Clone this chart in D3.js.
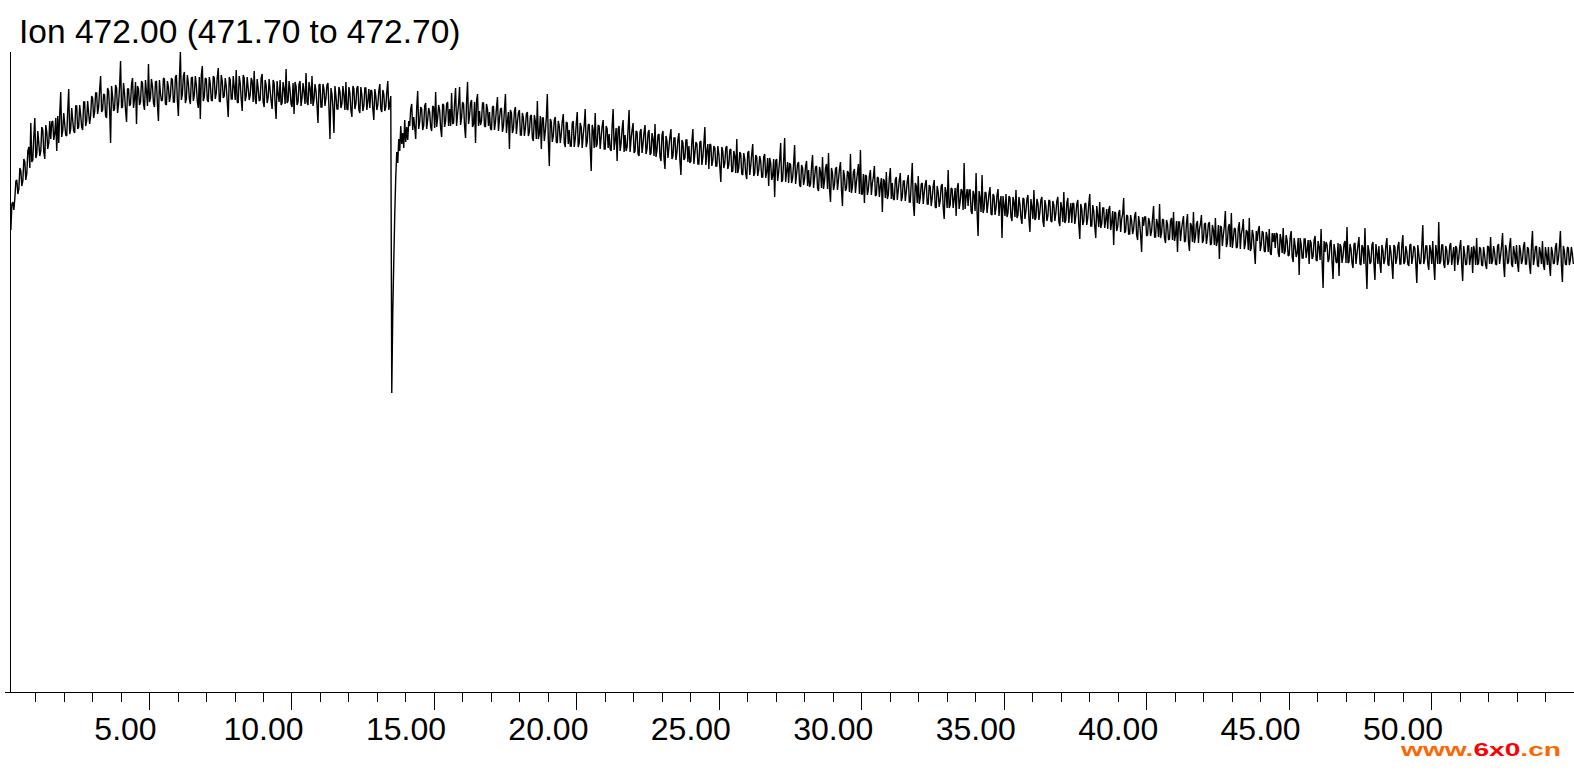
<!DOCTYPE html>
<html>
<head>
<meta charset="utf-8">
<script src="https://cdn.jsdelivr.net/npm/d3@7"></script>
<style>
  html, body { margin: 0; padding: 0; background: #ffffff; }
  svg { display: block; }
</style>
</head>
<body>
<svg id="chart" width="1574" height="770"></svg>
<script>
// ---- Data (ion chromatogram, m/z 472.00) ----
const titleText = "Ion 472.00 (471.70 to 472.70)";
const SCAN_START = 0.15;   // min
const SCAN_STEP = 0.035;   // min between scans

// abundance per scan (arbitrary units), consecutive scans
const scans0 = [462,488,490,482,494,511,512,498,503,524,521,506,511,533,530,512,519,541,545,524,569,530,532,556,574,534,538,561,549,536,541,565,562,540,533,567,560,543,549,571,
553,570,571,552,558,574,541,576,549,578,600,555,561,579,568,557,556,581,603,558,563,584,572,561,559,586,586,563,565,587,577,565,562,590,590,566,571,591,579,568,
576,596,594,574,580,599,599,578,585,602,616,580,582,598,597,576,574,604,601,583,549,606,596,581,583,607,604,579,588,605,631,584,585,609,598,582,570,603,603,586,
588,608,614,584,593,610,568,606,603,587,590,611,609,588,582,612,600,586,628,590,594,613,606,589,585,610,611,587,571,612,599,591,592,614,613,588,587,611,605,590,
596,614,612,590,590,615,617,591,576,613,640,592,598,616,620,589,593,617,609,593,588,614,615,591,597,616,607,590,584,615,573,617,626,591,595,614,613,592,590,615];
const scans1 = [608,592,591,616,614,593,599,615,624,591,590,617,611,594,596,614,606,590,575,615,612,593,593,616,605,592,622,590,589,616,609,593,581,617,614,591,596,615,604,592,
597,614,611,590,621,593,588,613,604,591,592,614,618,590,585,612,607,589,594,613,602,591,583,612,609,588,573,611,598,590,612,587,589,610,603,588,623,589,591,611,
602,588,585,609,578,610,606,587,590,608,611,586,594,609,600,588,619,590,587,610,604,588,616,586,592,608,601,587,569,607,608,585,585,608,603,586,594,607,609,584,
553,604,598,584,559,606,596,583,583,605,601,584,588,606,597,582,610,583,582,605,599,582,575,606,603,583,588,604,606,582,579,605,597,581,586,604,604,582,591,603,
584,602,601,583,572,603,596,582,587,601,608,583,580,602,598,581,585,600,611,582,588,596,299,380,430,478,515,540,529,553,541,566,548,559,544,572,550,565,552,571];
const scans2 = [566,583,588,562,575,565,553,584,601,563,570,585,583,562,566,586,589,563,572,584,580,565,561,586,585,564,600,565,574,587,582,564,555,588,587,565,571,588,590,566,
583,566,599,568,569,589,604,566,578,588,605,567,574,590,588,566,554,590,610,568,576,589,592,565,568,590,549,591,598,566,581,567,571,589,589,566,565,588,583,566,
580,563,562,585,586,562,570,584,595,561,573,583,584,560,566,582,598,559,571,580,543,582,579,559,563,581,585,558,570,579,582,557,557,579,574,556,564,578,580,556,
560,576,577,554,551,577,571,553,591,553,558,576,543,574,574,551,561,574,598,552,526,573,570,550,556,572,575,550,549,571,566,549,558,571,578,549,545,570,569,548,
562,546,546,569,571,545,553,568,580,545,549,569,565,544,557,567,583,545,550,567,568,544,521,567,562,544,579,545,548,567,566,543,555,566,572,543,543,566,563,544];
const scans3 = [558,543,541,566,583,542,552,564,531,563,566,541,549,563,572,540,557,541,545,563,582,540,553,562,569,539,541,561,560,538,536,560,563,539,548,560,567,538,543,559,
562,537,539,559,553,536,568,535,542,557,558,535,531,557,561,534,523,556,551,534,545,556,563,533,536,554,554,532,540,553,559,531,517,552,549,532,534,552,552,530,
546,529,531,551,563,528,539,550,548,528,528,550,551,527,535,549,565,527,541,548,523,548,547,526,532,546,544,526,526,546,538,525,510,545,541,524,529,544,546,523,
527,542,543,520,521,541,536,519,553,519,524,540,538,518,517,539,533,518,513,539,541,517,526,538,548,516,519,537,535,516,522,536,531,515,515,535,538,514,520,534,
506,534,529,512,516,533,495,531,533,511,520,532,549,510,512,531,554,510,521,530,509,529,527,509,514,528,547,508,518,528,530,507,505,527,524,507,513,526,531,506];
const scans4 = [522,505,508,526,537,504,514,525,526,504,501,525,520,504,535,503,511,524,528,503,539,503,490,524,519,502,507,523,525,502,512,523,530,502,486,522,516,501,504,521,
519,500,538,499,505,520,523,499,510,519,528,498,542,498,498,518,489,517,516,497,503,516,522,497,509,515,526,496,497,515,514,495,506,514,480,513,511,494,520,493,
497,514,524,493,509,493,492,512,515,492,502,512,519,491,495,511,511,491,500,511,517,490,490,510,529,489,476,509,506,489,516,488,494,508,509,488,499,508,512,488,
488,507,505,486,494,506,512,485,484,506,500,485,491,506,508,485,473,505,499,484,522,484,487,504,503,484,493,504,476,503,509,483,490,503,501,482,529,483,495,503,
486,502,502,481,478,501,497,481,519,480,456,501,494,480,517,479,483,500,499,479,489,499,505,478,477,498,496,477,484,497,503,476,490,496,454,496,487,476,498,475];
const scans5 = [479,496,494,475,471,495,490,475,502,474,477,495,488,474,468,494,493,473,481,493,497,473,460,493,485,473,502,472,474,493,489,472,480,492,495,471,465,492,486,471,
476,492,491,471,470,491,487,471,479,491,495,470,466,490,484,470,500,469,472,489,494,469,481,489,469,489,488,468,476,488,492,468,453,488,483,467,471,488,489,467,
474,488,498,466,466,487,481,466,454,486,477,465,490,464,468,484,484,464,472,483,463,482,486,462,470,481,447,480,479,461,465,479,482,460,473,478,494,459,461,477,
476,458,458,477,471,458,463,476,480,457,452,476,469,457,440,475,466,475,475,456,457,474,470,456,461,474,486,455,455,473,468,455,488,454,459,473,472,454,449,472,
468,452,453,471,474,452,480,451,457,471,440,470,470,451,462,470,476,450,451,469,478,450,441,469,466,450,480,449,455,468,471,449,463,468,477,449,452,468,469,448];
const scans6 = [456,468,470,447,448,467,462,447,474,446,451,467,433,466,465,446,457,466,481,445,449,465,468,445,479,444,453,464,463,444,445,464,470,443,458,463,473,443,448,462,
460,442,474,441,444,462,457,442,428,461,451,462,466,441,447,461,459,441,440,460,455,440,463,439,437,459,450,459,444,459,458,439,435,458,452,439,464,438,441,457,
451,436,437,455,461,435,430,454,446,435,439,454,417,454,448,434,434,453,453,434,442,452,428,452,449,433,436,452,456,432,431,451,445,432,463,431,404,451,440,450,
447,430,433,449,452,430,413,448,441,430,429,449,416,448,445,429,436,448,451,429,465,429,430,448,443,429,424,448,449,428,438,447,455,428,427,447,444,428,464,428,
403,447,441,428,430,447,450,428,412,448,439,428,446,428,419,447,442,428,433,447,454,428,426,447,440,428,413,447,445,428,434,446,450,428,428,447,457,428,430,446];
const scans7 = [440,428,426,447,448,428,435,446,444,428,409,447,438,428,429,446,467,428,433,446,446,428,422,447,441,428,451,428,412,447,439,428,470,428,431,447,447,428,424,446,
442,427,430,446,449,427,436,445,421,446,444,427,433,445,452,427,411,446,438,427,428,446,446,427,435,445,419,446,441,427,454,427,429,445,443,427,426,445,437,427,
423,446,445,428,455,428,431,446,440,428,427,446,448,428,436,446,459,428,415,447,442,428,430,446,454,428,425,446,439,428,447,428,420,447,441,428,432,446,450,428,
428,445,443,427,418,446,461,427,434,445,446,427,425,445,439,428,451,427,422,445,437,427,445,427,416,445,440,428,429,445,449,427,433,445,461,427,410,446,441,428,427,445,444,427,432,445,438,428];

const majorTicks = [5, 10, 15, 20, 25, 30, 35, 40, 45, 50];
const minorTicks = d3.range(1, 55).filter(v => v % 5 !== 0);
const xDomain = [0, 55];
const yDomain = [0, 640];

// ---- Build ----
const abundance = [].concat(scans0, scans1, scans2, scans3, scans4, scans5, scans6, scans7);
const points = abundance.map((v, i) => ({ t: SCAN_START + i * SCAN_STEP, v }));

const svg = d3.select("#chart");
const x = d3.scaleLinear().domain(xDomain).range([6.6, 1573.5]);
const y = d3.scaleLinear().domain(yDomain).range([692, 52]);
const FONT = "'Liberation Sans', Arial, Helvetica, sans-serif";

// title
svg.append("text")
  .attr("x", 19).attr("y", 43)
  .attr("font-family", FONT).attr("font-size", 33.5)
  .attr("fill", "#000")
  .text(titleText);

// trace
svg.append("path")
  .datum(points)
  .attr("fill", "none")
  .attr("stroke", "#000")
  .attr("stroke-width", 1.4)
  .attr("stroke-linejoin", "miter")
  .attr("stroke-miterlimit", 2)
  .attr("d", d3.line().x(d => x(d.t)).y(d => y(d.v)));

// y axis line (no ticks)
svg.append("line")
  .attr("x1", 10.5).attr("x2", 10.5)
  .attr("y1", y(yDomain[1])).attr("y2", 692.5)
  .attr("stroke", "#000").attr("stroke-width", 1);

// x axis
const gx = svg.append("g").attr("transform", "translate(0,692.5)");
gx.append("line")
  .attr("x1", 5).attr("x2", 1574)
  .attr("stroke", "#000").attr("stroke-width", 1);

const minorAxis = d3.axisBottom(x).tickValues(minorTicks).tickSize(9).tickFormat("");
const majorAxis = d3.axisBottom(x).tickValues(majorTicks).tickSize(17)
  .tickFormat(d3.format("5.2f")).tickPadding(0);

const gMinor = gx.append("g").call(minorAxis);
const gMajor = gx.append("g").call(majorAxis);
[gMinor, gMajor].forEach(g => {
  g.select(".domain").remove();
  g.selectAll(".tick line").attr("stroke", "#000").attr("shape-rendering", "crispEdges");
});
gMajor.selectAll(".tick text")
  .attr("font-family", FONT)
  .attr("font-size", 32)
  .attr("fill", "#000")
  .attr("y", 47.5)
  .attr("dy", 0)
  .attr("dx", -28.5)
  .attr("text-anchor", "middle")
  .style("white-space", "pre");

// watermark
const wm = svg.append("text")
  .attr("x", 1401).attr("y", 756)
  .attr("font-family", FONT).attr("font-size", 19).attr("font-weight", "bold")
  .attr("textLength", 160).attr("lengthAdjust", "spacingAndGlyphs");
wm.append("tspan").attr("fill", "#ff6600").text("www.");
wm.append("tspan").attr("fill", "#ff0000").text("6x0");
wm.append("tspan").attr("fill", "#ff6600").text(".cn");
</script>
</body>
</html>
